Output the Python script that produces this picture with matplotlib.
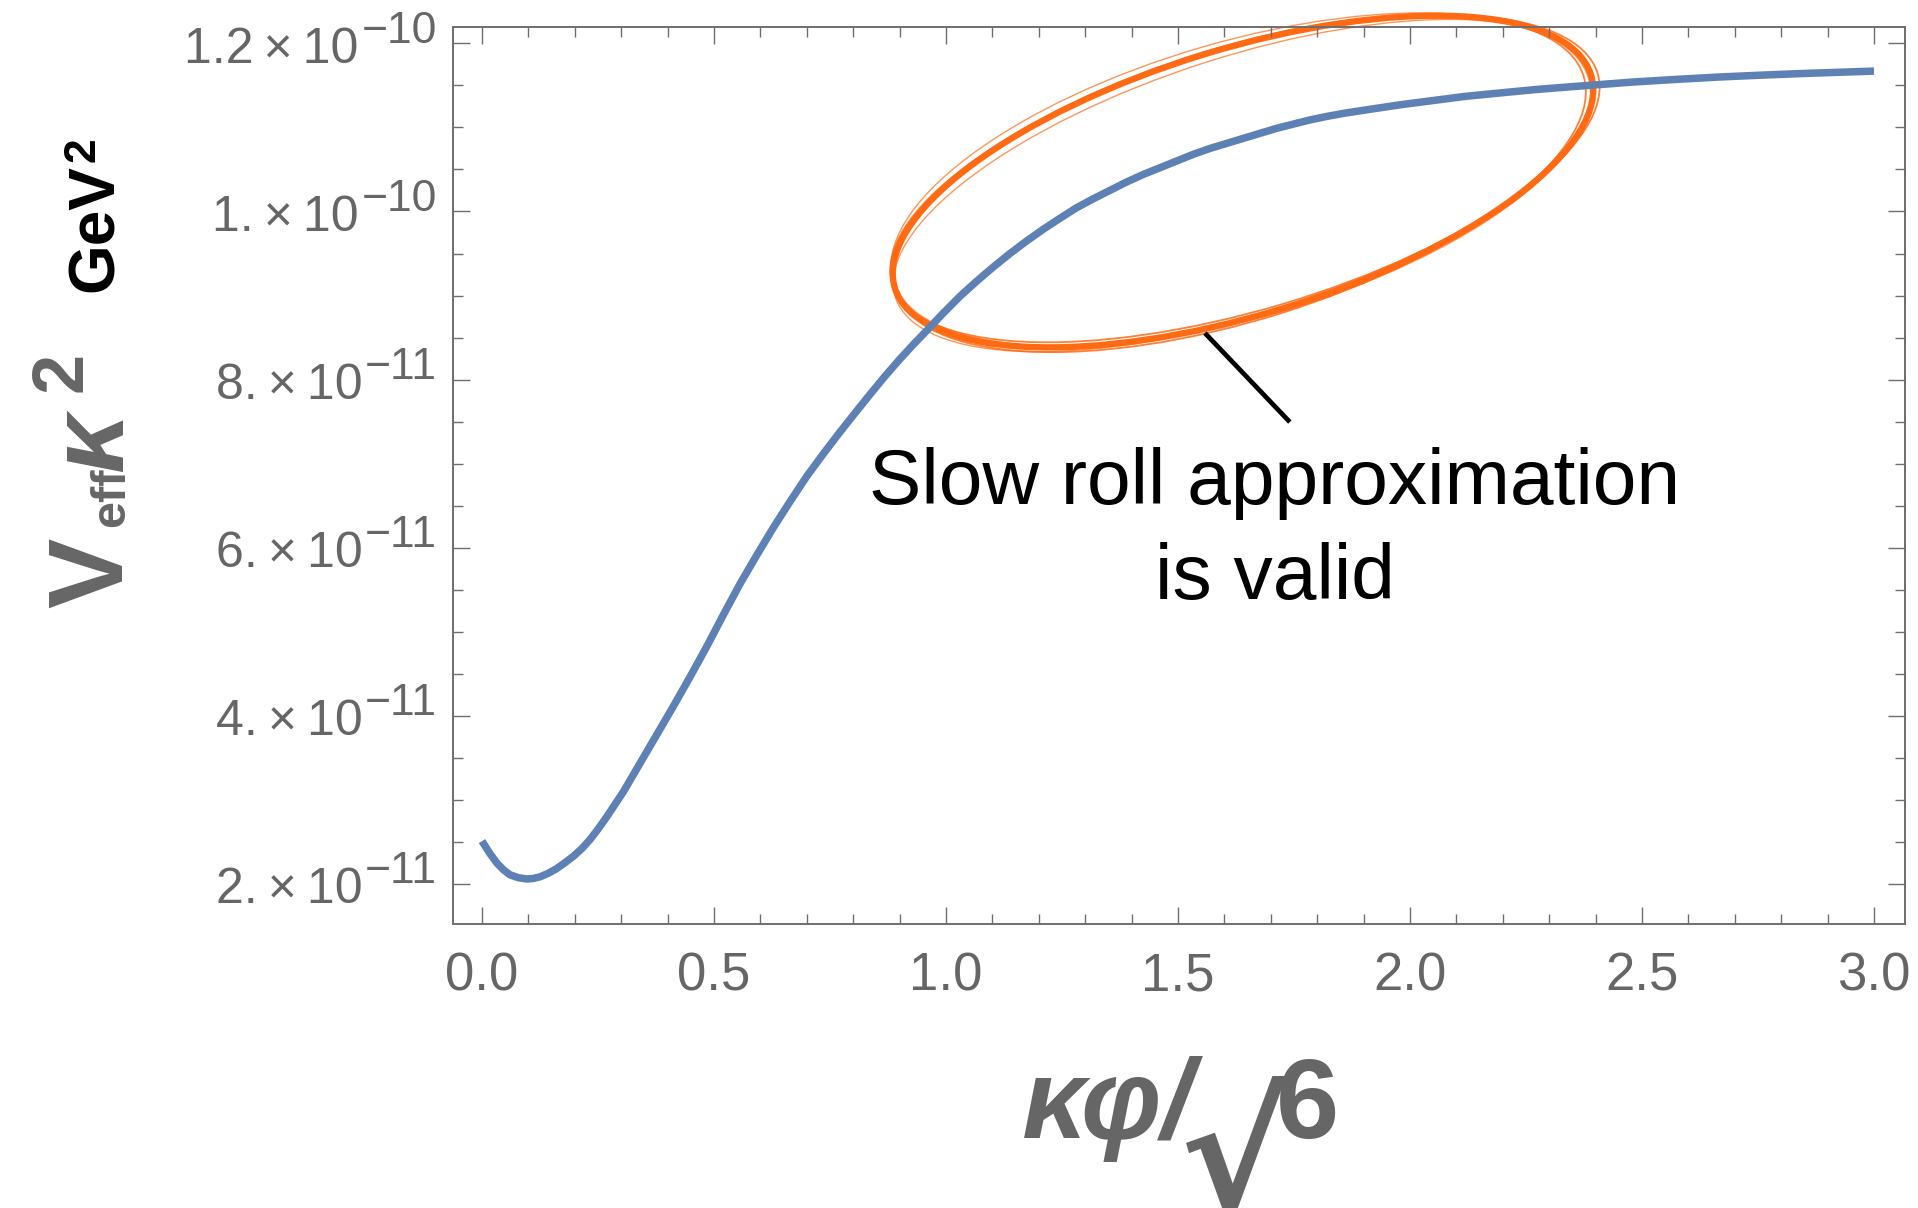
import numpy as np
import matplotlib
matplotlib.use("Agg")
import matplotlib.pyplot as plt
from matplotlib.patches import Ellipse
from matplotlib.ticker import MultipleLocator, FixedLocator, FixedFormatter
from matplotlib.transforms import ScaledTranslation

plt.rcParams["font.family"] = ["Liberation Sans", "DejaVu Sans"]

# effective potential (x = kappa*phi/sqrt(6))
x_field = [0.0, 0.016, 0.032, 0.046, 0.06, 0.078, 0.096, 0.11, 0.125, 0.142,
           0.16, 0.178, 0.197, 0.215, 0.233, 0.251, 0.269, 0.287, 0.305,
           0.323, 0.341, 0.376, 0.412, 0.448, 0.484, 0.52, 0.556, 0.592,
           0.628, 0.664, 0.700, 0.736, 0.772, 0.808, 0.843, 0.87, 0.90,
           0.93, 0.958, 0.994, 1.030, 1.066, 1.102, 1.138, 1.174, 1.21,
           1.246, 1.28, 1.317, 1.353, 1.389, 1.425, 1.461, 1.497, 1.533,
           1.569, 1.605, 1.641, 1.677, 1.713, 1.749, 1.785, 1.820, 1.86,
           1.907, 1.98, 2.050, 2.12, 2.194, 2.27, 2.338, 2.41, 2.481,
           2.57, 2.668, 2.75, 2.84, 2.92, 3.0]
v_eff = [2.51, 2.37, 2.25, 2.17, 2.11, 2.075, 2.06, 2.065, 2.085, 2.125,
         2.18, 2.25, 2.33, 2.42, 2.53, 2.66, 2.80, 2.95, 3.10,
         3.27, 3.44, 3.77, 4.11, 4.46, 4.82, 5.20, 5.57, 5.91,
         6.24, 6.55, 6.85, 7.12, 7.38, 7.63, 7.87, 8.05, 8.24,
         8.42, 8.58, 8.79, 8.99, 9.17, 9.34, 9.50, 9.65, 9.79,
         9.92, 10.04, 10.15, 10.25, 10.35, 10.44, 10.52, 10.60, 10.68,
         10.75, 10.81, 10.87, 10.93, 10.99, 11.04, 11.09, 11.13, 11.17,
         11.21, 11.27, 11.32, 11.37, 11.41, 11.45, 11.48, 11.51, 11.54,
         11.57, 11.60, 11.62, 11.64, 11.655, 11.67]
v_eff = np.array(v_eff) * 1e-11

x_ticks = [0.0, 0.5, 1.0, 1.5, 2.0, 2.5, 3.0]
x_ticklabels = ["0.0", "0.5", "1.0", "1.5", "2.0", "2.5", "3.0"]
y_ticks = [2e-11, 4e-11, 6e-11, 8e-11, 1e-10, 1.2e-10]
y_mantissa = ["2.", "4.", "6.", "8.", "1.", "1.2"]
y_exponent = ["−11", "−11", "−11", "−11", "−10", "−10"]

note_lines = ["Slow roll approximation", "is valid"]

W, H = 1918, 1208
gray = "#666666"
frame = "#6e6e6e"

fig = plt.figure(figsize=(W / 100, H / 100), dpi=100)
ax = fig.add_axes([453 / W, 1 - 924 / H, (1905 - 453) / W, (924 - 26.7) / H])

ax.plot(x_field, v_eff, color="#5E81B5", lw=5.4, solid_capstyle="butt",
        solid_joinstyle="round")

ax.set_xlim(-0.0625, 3.0668)
ax.set_ylim(1.524e-11, 1.2198e-10)

ax.xaxis.set_major_locator(FixedLocator(x_ticks))
ax.xaxis.set_major_formatter(FixedFormatter(x_ticklabels))
ax.xaxis.set_minor_locator(MultipleLocator(0.1))
ax.yaxis.set_major_locator(FixedLocator(y_ticks))
ax.yaxis.set_major_formatter(FixedFormatter([""] * len(y_ticks)))
ax.yaxis.set_minor_locator(MultipleLocator(0.5e-11))

ax.tick_params(which="both", direction="in", top=True, right=True,
               color=frame, width=1.0, labelcolor=gray, labelsize=38)
ax.tick_params(which="major", length=12.2)
ax.tick_params(which="minor", length=7.2)
ax.tick_params(axis="x", pad=20)
for s in ax.spines.values():
    s.set_color(frame)
    s.set_linewidth(1.4)

# y tick labels in the "1.2 x 10^-10" style, exponent almost full size
renderer = fig.canvas.get_renderer()
for yv, man, ex in zip(y_ticks, y_mantissa, y_exponent):
    te = ax.annotate(ex, xy=(0, yv), xycoords=("axes fraction", "data"),
                     xytext=(-11.5, 0.5), textcoords="offset points",
                     ha="right", va="baseline", fontsize=32, color=gray)
    w_pt = te.get_window_extent(renderer).width * 72 / fig.dpi
    ax.annotate(man + "\u2009×\u200910", xy=(0, yv),
                xytext=(-11.5 - w_pt - 2.0, -14), textcoords="offset points",
                xycoords=("axes fraction", "data"),
                ha="right", va="baseline", fontsize=36, color=gray)

# hand drawn ellipse around the plateau (pixel sizes, centred in data coords)
cx, cy = 1.640, 1.0356e-10
offset = ScaledTranslation(cx, cy, ax.transData)
strokes = [  # (dx px, dy px, a px, b px, angle, lw, alpha)
    (0, 0, 364, 133, 17.0, 4.6, 1.0),
    (2, -3, 368, 131, 16.6, 1.3, 0.85),
    (-3, 2, 360, 136, 17.4, 1.3, 0.85),
    (1, 4, 366, 129, 17.8, 1.0, 0.7),
    (-2, -2, 362, 138, 16.2, 1.0, 0.7),
]
for dx, dy, a, b, ang, lw, al in strokes:
    e = Ellipse((dx / 100, -dy / 100), 2 * a / 100, 2 * b / 100, angle=ang,
                transform=fig.dpi_scale_trans + offset, fill=False,
                ec="#FF6A13", lw=lw, alpha=al, clip_on=False)
    ax.add_artist(e)

# pointer line and note
ax.plot([1.558, 1.741], [8.554e-11, 7.495e-11], color="black", lw=3.4,
        clip_on=False, solid_capstyle="butt")
ax.text(1.709, 6.52e-11, note_lines[0], ha="center", va="baseline",
        fontsize=56.5, color="black")
ax.text(1.709, 5.39e-11, note_lines[1], ha="center", va="baseline",
        fontsize=56.5, color="black")


def ftxt(px, py, s, **kw):
    fig.text(px / W, 1 - py / H, s, rotation_mode="anchor",
             ha="left", va="baseline", **kw)


# y label: V_eff kappa^2  GeV^2 (rotated)
ftxt(122, 608, "V", rotation=90, fontsize=76, fontweight="bold", color=gray)
ftxt(124, 527, "eff", rotation=90, fontsize=35, fontweight="bold", color=gray)
ftxt(122, 472, "κ", rotation=90, fontsize=76, fontweight="bold",
     fontstyle="italic", color=gray)
ftxt(82, 392, "2", rotation=90, fontsize=52, fontweight="bold", color=gray)
ftxt(113, 292, "GeV", rotation=90, fontsize=46, fontweight="bold",
     color="black")
ftxt(94, 162, "2", rotation=90, fontsize=32, fontweight="bold",
     color="black")

# x label: kappa phi / sqrt 6
ftxt(1022, 1138, "κφ/", fontsize=82, fontweight="bold", fontstyle="italic",
     color=gray)
ftxt(1180, 1212, "√", fontsize=118, fontweight="bold", color=gray,
     family="DejaVu Sans")
ftxt(1276, 1138, "6", fontsize=82, fontweight="bold", color=gray)

fig.savefig("out.png", dpi=100, facecolor="white")
